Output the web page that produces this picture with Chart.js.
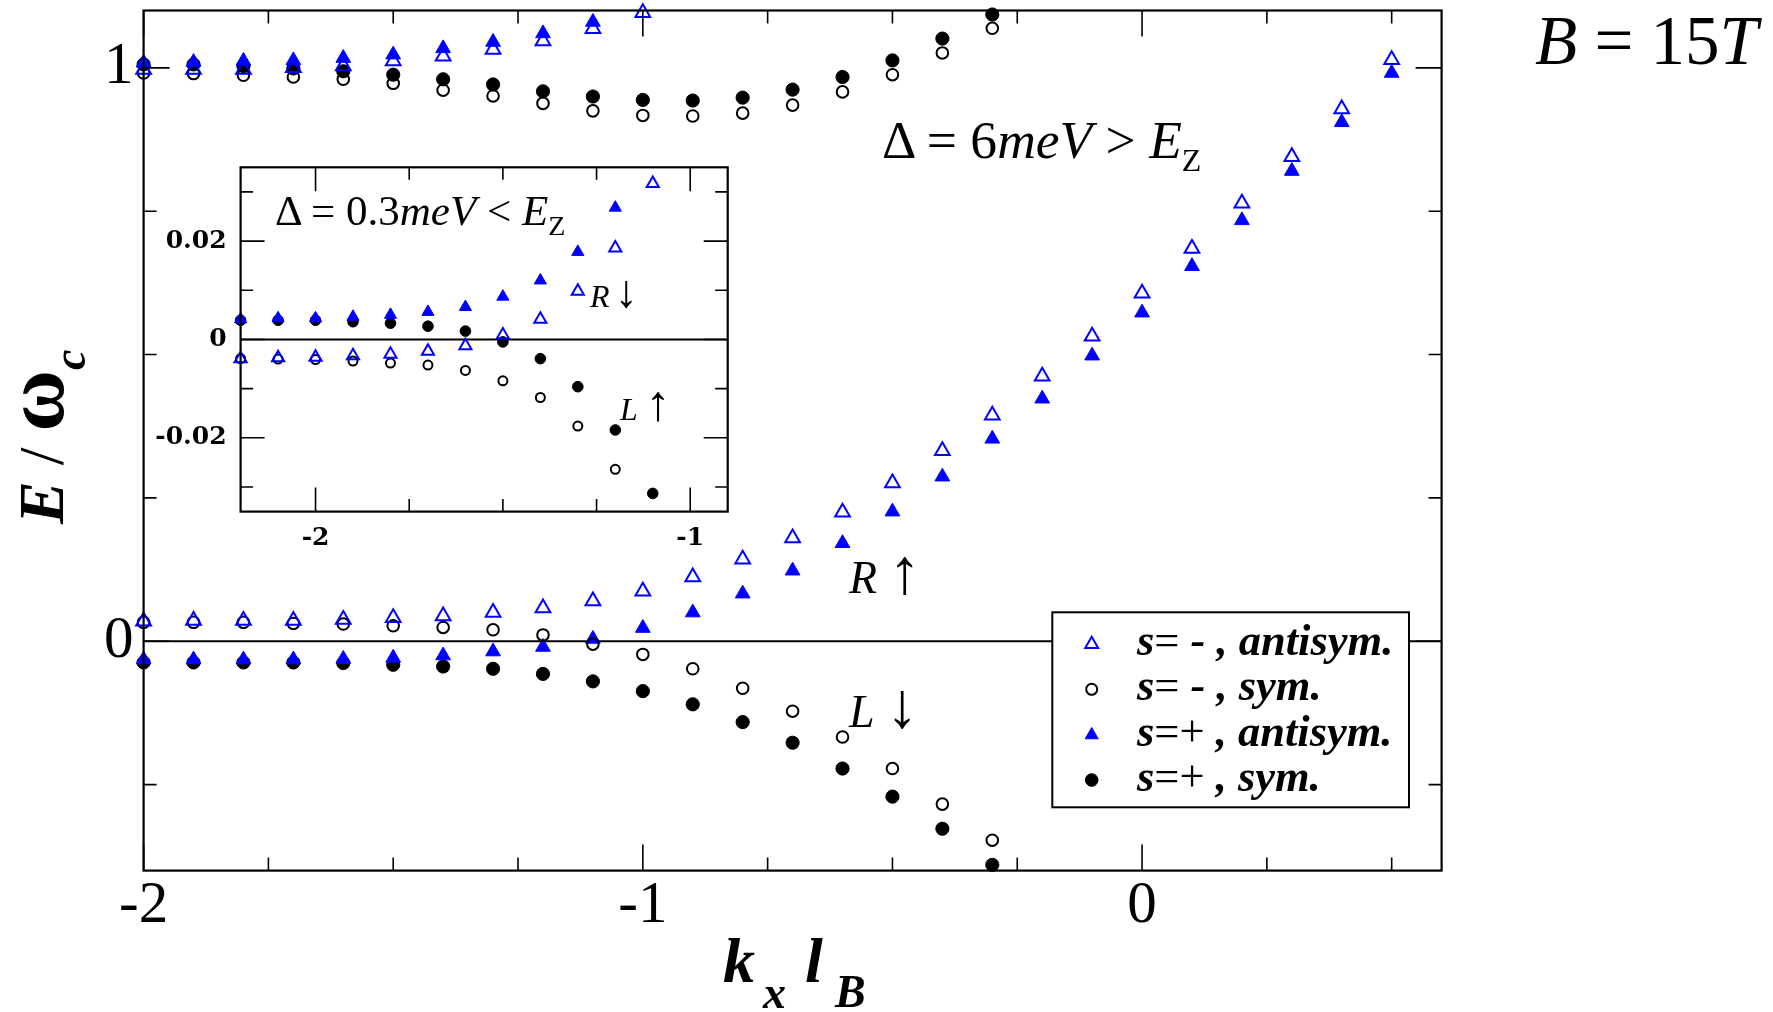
<!DOCTYPE html>
<html>
<head>
<meta charset="utf-8">
<title>E / ω_c versus k_x l_B</title>
<script src="https://cdn.jsdelivr.net/npm/chart.js@4.4.1/dist/chart.umd.min.js"></script>
<style>
  html, body { margin: 0; padding: 0; background: #fff; }
  #wrap { position: relative; width: 1773px; height: 1012px; overflow: hidden; background: #fff; }
  canvas { position: absolute; }
  #mainChart { left: 0; top: 0; }
  #insetChart { left: 145px; top: 150px; }
  .txt { position: absolute; font-family: "Liberation Serif", "Times New Roman", serif; line-height: 1; white-space: nowrap; color: #000; }
  .arr { line-height: 0; }
  .sub { position: relative; line-height: 0; }
  .up { font-style: normal; font-weight: normal; }
</style>
</head>
<body>
<div id="wrap">
  <canvas id="mainChart" width="1773" height="1012"></canvas>
  <canvas id="insetChart" width="600" height="420"></canvas>
</div>
<script>
// ======================
// DATA (main panel, Delta = 6 meV)
// ======================
const kx = [-2.0, -1.9, -1.8, -1.7, -1.6, -1.5, -1.4, -1.3, -1.2, -1.1, -1.0, -0.9, -0.8,
            -0.7, -0.6, -0.5, -0.4, -0.3, -0.2, -0.1, 0.0, 0.1, 0.2, 0.3, 0.4, 0.5];

// s = - , antisym.  (open triangles)
const minusAntiUpper = [0.997, 0.997, 0.997, 1.000, 1.003, 1.012, 1.020, 1.032, 1.047, 1.068, 1.096];
const minusAntiLower = [0.035, 0.036, 0.036, 0.036, 0.038, 0.041, 0.044, 0.050, 0.058, 0.070, 0.087, 0.112, 0.143,
                        0.180, 0.225, 0.276, 0.332, 0.394, 0.462, 0.532, 0.607, 0.685, 0.764, 0.845, 0.928, 1.014];
// s = - , sym.  (open circles)
const minusSymUpper = [0.991, 0.990, 0.987, 0.984, 0.980, 0.973, 0.961, 0.951, 0.938, 0.925, 0.917, 0.916, 0.921,
                       0.935, 0.958, 0.988, 1.026, 1.069];
const minusSymLower = [0.033, 0.033, 0.033, 0.031, 0.030, 0.027, 0.024, 0.020, 0.011, -0.005, -0.023, -0.048, -0.082,
                       -0.122, -0.167, -0.222, -0.284, -0.347];
// s = + , antisym.  (filled triangles)
const plusAntiUpper = [1.009, 1.010, 1.012, 1.013, 1.017, 1.023, 1.034, 1.045, 1.060, 1.080];
const plusAntiLower = [-0.032, -0.032, -0.032, -0.032, -0.031, -0.029, -0.025, -0.018, -0.010, 0.004, 0.023, 0.050, 0.083,
                       0.123, 0.171, 0.226, 0.287, 0.353, 0.423, 0.498, 0.573, 0.654, 0.734, 0.820, 0.905, 0.991];
// s = + , sym.  (filled circles)
const plusSymUpper = [1.006, 1.006, 1.003, 0.999, 0.994, 0.988, 0.980, 0.971, 0.959, 0.950, 0.944, 0.943, 0.948,
                      0.962, 0.984, 1.013, 1.051, 1.093];
const plusSymLower = [-0.037, -0.037, -0.037, -0.037, -0.038, -0.041, -0.044, -0.048, -0.057, -0.070, -0.087, -0.110, -0.141,
                      -0.177, -0.222, -0.271, -0.327, -0.390];

// ======================
// DATA (inset, Delta = 0.3 meV)
// ======================
const insetKx = [-2.2, -2.1, -2.0, -1.9, -1.8, -1.7, -1.6, -1.5, -1.4, -1.3, -1.2, -1.1];
const insetMinusAnti = [-0.0039, -0.0037, -0.0036, -0.0033, -0.0030, -0.0024, -0.0013, 0.0009, 0.0041, 0.0098, 0.0186, 0.0317];
const insetMinusSym  = [-0.0039, -0.0040, -0.0041, -0.0044, -0.0048, -0.0052, -0.0063, -0.0084, -0.0118, -0.0176, -0.0264];
const insetPlusAnti  = [0.0041, 0.0043, 0.0043, 0.0046, 0.0050, 0.0056, 0.0066, 0.0087, 0.0120, 0.0178, 0.0268];
const insetPlusSym   = [0.0039, 0.0039, 0.0039, 0.0036, 0.0033, 0.0027, 0.0017, -0.0005, -0.0039, -0.0096, -0.0184, -0.0313];

const seriesLabels = ["s= - , antisym.", "s= - , sym.", "s=+ , antisym.", "s=+ , sym."];

// ======================
// TICKS
// ======================
const mainXTicks = [-2, -1.75, -1.5, -1.25, -1, -0.75, -0.5, -0.25, 0, 0.25, 0.5];
const mainXLabels = [-2, -1, 0];
const mainYTicks = [-0.25, 0, 0.25, 0.5, 0.75, 1];
const mainYLabels = [0, 1];
const insetXTicks = [-2, -1.75, -1.5, -1.25, -1];
const insetXLabels = [-2, -1];
const insetYTicks = [-0.03, -0.02, -0.01, 0, 0.01, 0.02, 0.03];
const insetYLabels = [-0.02, 0, 0.02];

const BLUE = "#0000ff";

function toPoints(xs, ...branches) {
    const out = [];
    branches.forEach(b => b.forEach((v, i) => {
        if (v !== null) out.push({ x: xs[i], y: v });
    }));
    return out;
}

// index 0: open tri, 1: open circle, 2: filled tri, 3: filled circle
function seriesStyle(i, triR, circR) {
    const tri = i % 2 === 0;
    const filled = i >= 2;
    const col = tri ? BLUE : "#000";
    return {
        pointStyle: tri ? "triangle" : "circle",
        radius: tri ? triR : (filled ? circR + 0.3 : circR - 0.5),
        fill: filled ? col : "rgba(0,0,0,0)",
        stroke: col,
        borderWidth: filled ? 1 : 2
    };
}

function buildDatasets(sets, triR, circR) {
    return sets.map((data, i) => {
        const st = seriesStyle(i, triR, circR);
        return {
            label: seriesLabels[i],
            data: data,
            showLine: false,
            clip: false,
            pointStyle: st.pointStyle,
            pointRadius: st.radius,
            pointBackgroundColor: st.fill,
            pointBorderColor: st.stroke,
            pointBorderWidth: st.borderWidth
        };
    });
}

function axisOpts(min, max, tickVals, labelVals, font, padding, size, isX) {
    return {
        type: "linear",
        min: min,
        max: max,
        afterBuildTicks: s => { s.ticks = tickVals.map(v => ({ value: v })); },
        afterFit: s => {
            if (isX) s.height = size; else s.width = size;
            s.paddingLeft = 0; s.paddingRight = 0; s.paddingTop = 0; s.paddingBottom = 0;
        },
        ticks: {
            autoSkip: false, maxRotation: 0, minRotation: 0,
            padding: padding, color: "#000", font: font,
            callback: v => labelVals.includes(v) ? String(v) : ""
        },
        grid: { display: false, drawTicks: false },
        border: { display: false }
    };
}

// ======================
// FRAME / TICKS / ZERO LINE / LEGEND
// ======================
function makeFramePlugin(cfg) {
    return {
        id: "frame",
        beforeDraw(chart) {
            if (!cfg.fillArea) return;
            const { ctx, chartArea: a } = chart;
            ctx.save();
            ctx.fillStyle = "#fff";
            ctx.fillRect(a.left, a.top, a.width, a.height);
            ctx.restore();
        },
        beforeDatasetsDraw(chart) {
            const { ctx, chartArea: a, scales } = chart;
            const py = scales.y.getPixelForValue(0);
            ctx.save();
            ctx.strokeStyle = "#000";
            ctx.lineWidth = cfg.zeroWidth;
            ctx.beginPath();
            ctx.moveTo(a.left, py);
            ctx.lineTo(a.right, py);
            ctx.stroke();
            ctx.restore();
        },
        afterDatasetsDraw(chart) {
            const { ctx, chartArea: a, scales } = chart;
            ctx.save();
            ctx.strokeStyle = "#000";

            // legend box
            if (cfg.legend) {
                const L = cfg.legend;
                ctx.fillStyle = "#fff";
                ctx.lineWidth = 2;
                ctx.fillRect(L.left, L.top, L.width, L.height);
                ctx.strokeRect(L.left, L.top, L.width, L.height);
                chart.data.datasets.forEach((ds, i) => {
                    const st = seriesStyle(i, L.triR, L.circR);
                    ctx.fillStyle = st.fill;
                    ctx.strokeStyle = st.stroke;
                    ctx.lineWidth = st.borderWidth;
                    Chart.helpers.drawPoint(ctx, {
                        pointStyle: st.pointStyle, radius: st.radius, rotation: 0, borderWidth: st.borderWidth
                    }, L.symX, L.rowY[i]);
                });
                ctx.strokeStyle = "#000";
            }

            // ticks inward on all four sides
            ctx.lineWidth = cfg.tickWidth;
            ctx.beginPath();
            cfg.xTicks.forEach(v => {
                const px = scales.x.getPixelForValue(v);
                const len = cfg.xMajor.includes(v) ? cfg.majorLen : cfg.minorLen;
                ctx.moveTo(px, a.bottom); ctx.lineTo(px, a.bottom - len);
                ctx.moveTo(px, a.top); ctx.lineTo(px, a.top + len);
            });
            cfg.yTicks.forEach(v => {
                const py = scales.y.getPixelForValue(v);
                const len = cfg.yMajor.includes(v) ? cfg.majorLen : cfg.minorLen;
                ctx.moveTo(a.left, py); ctx.lineTo(a.left + len, py);
                ctx.moveTo(a.right, py); ctx.lineTo(a.right - len, py);
            });
            ctx.stroke();

            // frame
            ctx.lineWidth = cfg.lineWidth;
            ctx.strokeRect(a.left, a.top, a.width, a.height);
            ctx.restore();
        }
    };
}

// ======================
// MAIN CHART
// ======================
const mainFont = { family: "'Liberation Serif', 'Times New Roman', serif", size: 59, weight: "normal", lineHeight: 1.2 };

new Chart(document.getElementById("mainChart"), {
    type: "scatter",
    data: {
        datasets: buildDatasets([
            toPoints(kx, minusAntiUpper, minusAntiLower),
            toPoints(kx, minusSymUpper, minusSymLower),
            toPoints(kx, plusAntiUpper, plusAntiLower),
            toPoints(kx, plusSymUpper, plusSymLower)
        ], 8.5, 6.3)
    },
    options: {
        responsive: false,
        animation: false,
        devicePixelRatio: 1,
        events: [],
        layout: { padding: { top: 9, right: 331.4, left: 0, bottom: 0 } },
        plugins: { legend: { display: false }, tooltip: { enabled: false } },
        scales: {
            x: axisOpts(-2, 0.6, mainXTicks, mainXLabels, mainFont, 0, 141.4, true),
            y: axisOpts(-0.4, 1.1, mainYTicks, mainYLabels, mainFont, 10, 143.6, false)
        }
    },
    plugins: [makeFramePlugin({
        xTicks: mainXTicks, xMajor: mainXLabels,
        yTicks: mainYTicks, yMajor: mainYLabels,
        majorLen: 26, minorLen: 13, tickWidth: 1.6, lineWidth: 2.2, zeroWidth: 2,
        fillArea: false,
        legend: {
            left: 1052.3, top: 612.3, width: 356.7, height: 195,
            symX: 1091.7, rowY: [644.3, 689.3, 735, 780], triR: 7.5, circR: 6
        }
    })]
});

// ======================
// INSET CHART
// ======================
const insetFont = { family: "'DejaVu Serif', serif", size: 25, weight: "bold", lineHeight: 1.2 };

new Chart(document.getElementById("insetChart"), {
    type: "scatter",
    data: {
        datasets: buildDatasets([
            toPoints(insetKx, insetMinusAnti),
            toPoints(insetKx, insetMinusSym),
            toPoints(insetKx, insetPlusAnti),
            toPoints(insetKx, insetPlusSym)
        ], 7, 5)
    },
    options: {
        responsive: false,
        animation: false,
        devicePixelRatio: 1,
        events: [],
        layout: { padding: { top: 17.3, right: 17.3, left: 0, bottom: 0 } },
        plugins: { legend: { display: false }, tooltip: { enabled: false } },
        scales: {
            x: axisOpts(-2.2, -0.9, insetXTicks, insetXLabels, insetFont, 12, 58.4, true),
            y: axisOpts(-0.035, 0.035, insetYTicks, insetYLabels, insetFont, 14, 95.6, false)
        }
    },
    plugins: [makeFramePlugin({
        xTicks: insetXTicks, xMajor: insetXLabels,
        yTicks: insetYTicks, yMajor: insetYLabels,
        majorLen: 24, minorLen: 12.5, tickWidth: 1.6, lineWidth: 2.2, zeroWidth: 2,
        fillArea: true
    })]
});

// ======================
// TEXT LABELS (real DOM text)
// ======================
const wrap = document.getElementById("wrap");

function addText(html, left, baseline, size, extra) {
    const d = document.createElement("div");
    d.className = "txt";
    d.style.fontSize = size + "px";
    d.style.left = left + "px";
    d.style.top = (baseline - 0.8375 * size) + "px";
    if (extra) Object.assign(d.style, extra);
    d.innerHTML = html;
    wrap.appendChild(d);
    return d;
}

addText("<i>B</i> = 15<i>T</i>", 1535, 65, 69);
addText("Δ = 6<i>meV</i> &gt; <i>E</i><span class='sub' style='font-size:32px;top:13px'>Z</span>", 882, 159, 53.5);
addText("Δ = 0.3<i>meV</i> &lt; <i>E</i><span class='sub' style='font-size:28px;top:10px'>Z</span>", 275, 225, 43);

addText("<i>R</i> <span class='arr' style='font-size:64px'>↑</span>", 849, 594, 46);
addText("<i>L</i> <span class='arr' style='font-size:64px'>↓</span>", 849, 728, 46);
addText("<i>R</i><span class='arr' style='font-size:46px;margin-left:5px'>↓</span>", 590, 307, 32);
addText("<i>L</i> <span class='arr' style='font-size:50px'>↑</span>", 620, 420, 32);

// axis titles
addText("<b><i>k</i></b>", 723, 983, 64);
addText("<b><i>x</i></b>", 763, 1009, 46);
addText("<b><i>l</i></b>", 805, 983, 64);
addText("<b><i>B</i></b>", 835, 1008, 46);

addText("<b><i>E</i></b> / <b style='font-size:84px;line-height:0'>ω</b><span class='sub' style='font-size:46px;top:22px'><b><i>c</i></b></span>",
        10.4, 0.8375 * 64, 64, { top: "524px", transformOrigin: "0 0", transform: "rotate(-90deg)" });

// legend texts
const legendBase = [655, 700, 746, 791];
seriesLabels.forEach((lab, i) => {
    const html = lab.replace("=", "<span class='up'>=</span>").replace("+", "<span class='up'>+</span>");
    addText("<b><i>" + html + "</i></b>", 1137, legendBase[i], 44.5);
});
</script>
</body>
</html>
